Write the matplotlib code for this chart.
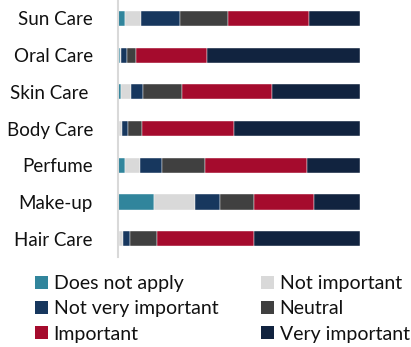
import matplotlib.pyplot as plt
from matplotlib.patches import Patch
import numpy as np

plt.rcParams['font.family'] = ['Lato', 'DejaVu Sans']

# data (percent of respondents)
categories = ['Sun Care', 'Oral Care', 'Skin Care ', 'Body Care', 'Perfume', 'Make-up', 'Hair Care']
levels = ['Does not apply', 'Not important', 'Not very important', 'Neutral', 'Important', 'Very important']

does_not_apply = [2.9, 1.0, 1.4, 0.3, 2.9, 15.0, 0.3]
not_important = [6.6, 0.4, 4.0, 1.2, 6.1, 16.9, 1.8]
not_very_important = [16.0, 2.2, 5.1, 2.5, 9.1, 10.1, 2.9]
neutral = [20.0, 4.0, 15.9, 5.9, 17.9, 14.0, 11.0]
important = [33.4, 29.0, 37.3, 38.2, 42.1, 25.1, 40.1]
very_important = [21.1, 63.4, 36.3, 51.9, 21.9, 18.9, 43.9]

series = [does_not_apply, not_important, not_very_important, neutral, important, very_important]
colors = ['#31859C', '#D9D9D9', '#17375E', '#404040', '#A50B2D', '#11233F']

fig = plt.figure(figsize=(4.11, 3.47), dpi=100)
ax = fig.add_axes([0.287, 0.259, 0.589, 0.741])

y = np.arange(len(categories))
left = np.zeros(len(categories))
for vals, col in zip(series, colors):
    vals = np.array(vals)
    ax.barh(y, vals, left=left, height=0.41, color=col, edgecolor='white', linewidth=0.3)
    left += vals

ax.set_xlim(0, left.max())
ax.set_ylim(len(categories) - 0.5, -0.5)
ax.set_yticks(y)
ax.set_yticklabels(categories, fontsize=13.5, color='#111111')
ax.tick_params(axis='y', length=0, pad=18)
ax.set_xticks([])
for s in ['top', 'right', 'bottom']:
    ax.spines[s].set_visible(False)
ax.spines['left'].set_color('#D9D9D9')
ax.spines['left'].set_linewidth(1.5)

# legend, row-major order
order = [0, 2, 4, 1, 3, 5]
handles = [Patch(facecolor=colors[i], label=levels[i]) for i in order]
fig.legend(handles=handles, ncol=2, loc='upper left', bbox_to_anchor=(0.062, 0.235),
           frameon=False, fontsize=14, handlelength=0.65, handleheight=0.65,
           handletextpad=0.3, columnspacing=2.2, labelspacing=0.42, borderpad=0,
           labelcolor='#111111')

fig.savefig('out.png', dpi=100)
